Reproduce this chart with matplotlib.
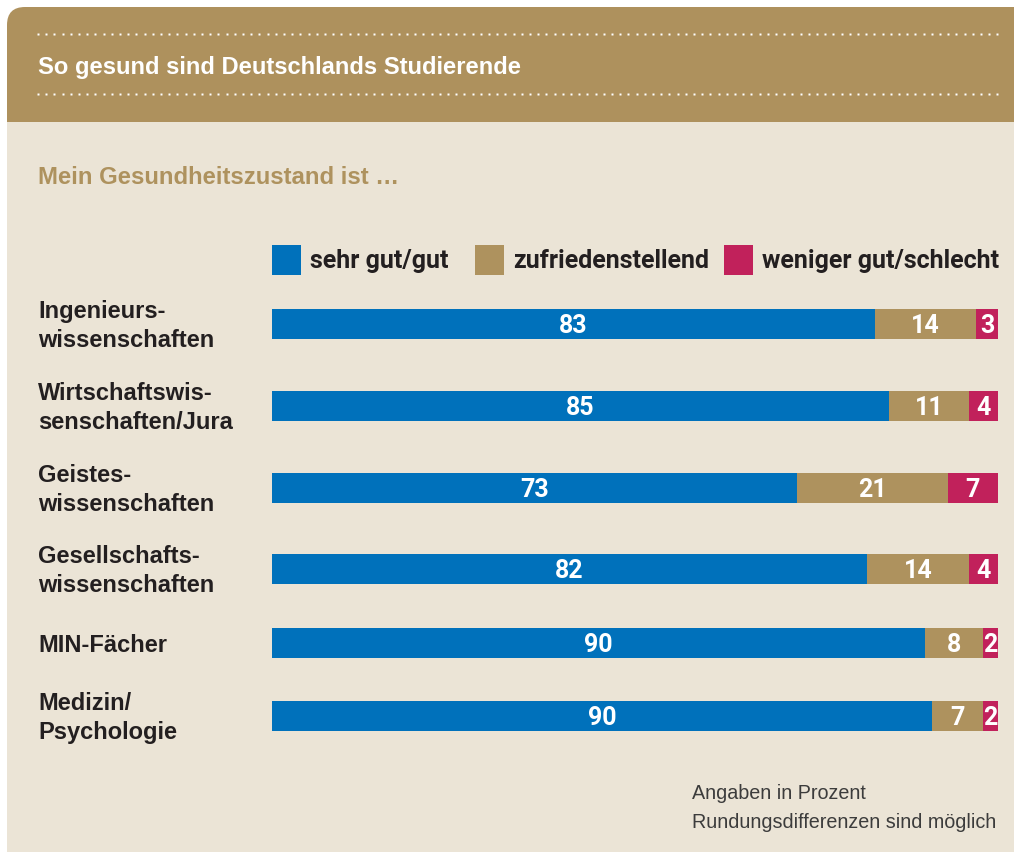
import matplotlib
matplotlib.use("Agg")
import matplotlib.pyplot as plt
from matplotlib.patches import FancyBboxPatch, Rectangle
import numpy as np

# data
categories = ["Ingenieurs-\nwissenschaften", "Wirtschaftswis-\nsenschaften/Jura",
              "Geistes-\nwissenschaften", "Gesellschafts-\nwissenschaften",
              "MIN-Fächer", "Medizin/\nPsychologie"]
sehr_gut = [83, 85, 73, 82, 90, 90]
zufrieden = [14, 11, 21, 14, 8, 7]
weniger_gut = [3, 4, 7, 4, 2, 2]
series_names = ["sehr gut/gut", "zufriedenstellend", "weniger gut/schlecht"]

title = "So gesund sind Deutschlands Studierende"
subtitle = "Mein Gesundheitszustand ist \u2026"
notes = ["Angaben in Prozent", "Rundungsdifferenzen sind möglich"]

# style
BLUE = "#0071bb"
TAN = "#ae925e"
MAGENTA = "#c1215b"
HEADER = "#ae915d"
BEIGE = "#ebe4d6"
DARK = "#231f20"
colors = [BLUE, TAN, MAGENTA]
COND = "Roboto"   # narrow-ish bold face for legend and bar numbers

W, H = 1014, 853
fig = plt.figure(figsize=(W / 100, H / 100), dpi=100)
fig.patch.set_facecolor("white")

bg = fig.add_axes([0, 0, 1, 1])
bg.set_xlim(0, W)
bg.set_ylim(H, 0)
bg.axis("off")

# header band with rounded top-left corner
bg.add_patch(FancyBboxPatch((7, 8), W + 40, 160, boxstyle="round,pad=0,rounding_size=18",
                            fc=HEADER, ec="none", zorder=1))
bg.add_patch(Rectangle((7, 123), W, H - 123, fc=BEIGE, ec="none", zorder=2))

dots_x = np.arange(38, 1000, 8.2)
for yy in (35, 95):
    bg.plot(dots_x, np.full_like(dots_x, yy), ls="none", marker="s", ms=1.8,
            mfc="white", mec="none", zorder=3)

bg.text(38, 67, title, color="white", fontsize=17.1, fontweight="bold",
        family="Liberation Sans", va="center", ha="left", zorder=4)
bg.text(38, 177, subtitle, color=TAN, fontsize=17.2, fontweight="bold",
        family="Liberation Sans", va="center", ha="left", zorder=4)

# legend
leg_x = [272, 475, 724]
for lx, name, c in zip(leg_x, series_names, colors):
    bg.add_patch(Rectangle((lx, 246), 29, 30, fc=c, ec="none", zorder=4))
    bg.text(lx + 38, 261, name, color=DARK, fontsize=18, fontweight="bold",
            family=COND, va="center", ha="left", zorder=4)

# bars
row_y = [325, 407, 489, 570, 644, 717]
ax = fig.add_axes([272 / W, 0, 726 / W, 1])
ax.set_xlim(0, 100)
ax.set_ylim(H, 0)
ax.axis("off")

vals = np.array([sehr_gut, zufrieden, weniger_gut], dtype=float)
shares = vals / vals.sum(axis=0) * 100
left = np.zeros(len(categories))
for i in range(3):
    ax.barh(row_y, shares[i], left=left, height=30, color=colors[i], zorder=3)
    for y, l, s, v in zip(row_y, left, shares[i], vals[i]):
        ax.text(l + s / 2, y + 1, f"{int(v)}", color="white", fontsize=18,
                fontweight="bold", family=COND,
                ha="center", va="center", zorder=4)
    left += shares[i]

for y, cat in zip(row_y, categories):
    bg.text(38, y + 1, cat, color=DARK, fontsize=17, fontweight="bold",
            family="Liberation Sans", va="center", ha="left", linespacing=1.36, zorder=4)

bg.text(692, 794, notes[0], color="#3c3c3c", fontsize=14.2, family="Liberation Sans",
        va="center", ha="left", zorder=4)
bg.text(692, 823, notes[1], color="#3c3c3c", fontsize=14.2, family="Liberation Sans",
        va="center", ha="left", zorder=4)

fig.savefig("out.png", dpi=100, facecolor=fig.get_facecolor())
